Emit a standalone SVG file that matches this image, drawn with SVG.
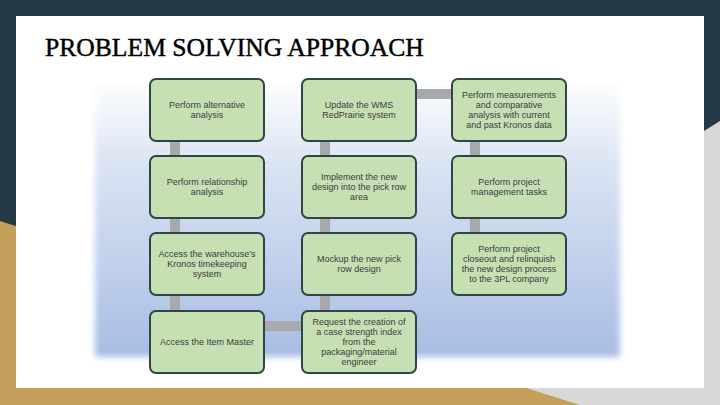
<svg xmlns="http://www.w3.org/2000/svg" width="720" height="405" viewBox="0 0 720 405">
<defs>
<linearGradient id="panelGrad" x1="0" y1="0" x2="0" y2="1">
<stop offset="0" stop-color="#fbfcfe"/>
<stop offset="0.3" stop-color="#dae3f3"/>
<stop offset="1" stop-color="#a8bde4"/>
</linearGradient>
<filter id="soft" x="-5%" y="-5%" width="110%" height="110%">
<feGaussianBlur stdDeviation="3"/>
</filter>
<style>
.box{fill:#c6e0b4;stroke:#2f4646;stroke-width:2}
.lbl{font-family:"Liberation Sans",Arial,sans-serif;font-size:9px;fill:#3c3c3c;text-anchor:middle}
.conn{stroke:#a8a9ad;stroke-width:10;fill:none}
.title{font-family:"Liberation Serif","Times New Roman",serif;font-size:25.6px;fill:#000;stroke:#000;stroke-width:0.45}
</style>
</defs>
<rect x="0" y="0" width="720" height="405" fill="#243846"/>
<polygon points="720,121 266,405 720,405" fill="#d8d8d8"/>
<polygon points="0,221 580,405 0,405" fill="#c49f59"/>
<rect x="16" y="16" width="688" height="372" fill="#ffffff"/>
<text class="title" x="45" y="56">PROBLEM SOLVING APPROACH</text>
<rect x="95" y="86" width="525" height="271" fill="url(#panelGrad)" filter="url(#soft)"/>
<g id="connectors">
<line class="conn" x1="175" y1="141" x2="175" y2="311"/>
<line class="conn" x1="325" y1="141" x2="325" y2="311"/>
<line class="conn" x1="475" y1="141" x2="475" y2="233"/>
<line class="conn" x1="416" y1="94" x2="452" y2="94"/>
<line class="conn" x1="264" y1="326" x2="302" y2="326"/>
</g>
<g id="n1"><rect class="box" x="150" y="79" width="114" height="62" rx="6"/>
<text class="lbl"><tspan x="207" y="107.9">Perform alternative</tspan><tspan x="207" y="118.1">analysis</tspan></text></g>
<g id="n2"><rect class="box" x="150" y="156" width="114" height="62" rx="6"/>
<text class="lbl"><tspan x="207" y="184.9">Perform relationship</tspan><tspan x="207" y="195.1">analysis</tspan></text></g>
<g id="n3"><rect class="box" x="150" y="233" width="114" height="62" rx="6"/>
<text class="lbl"><tspan x="207" y="256.8">Access the warehouse's</tspan><tspan x="207" y="267">Kronos timekeeping</tspan><tspan x="207" y="277.2">system</tspan></text></g>
<g id="n4"><rect class="box" x="150" y="311" width="114" height="62" rx="6"/>
<text class="lbl"><tspan x="207" y="345">Access the Item Master</tspan></text></g>
<g id="n5"><rect class="box" x="302" y="79" width="114" height="62" rx="6"/>
<text class="lbl"><tspan x="359" y="107.9">Update the WMS</tspan><tspan x="359" y="118.1">RedPrairie system</tspan></text></g>
<g id="n6"><rect class="box" x="302" y="156" width="114" height="62" rx="6"/>
<text class="lbl"><tspan x="359" y="179.8">Implement the new</tspan><tspan x="359" y="190">design into the pick row</tspan><tspan x="359" y="200.2">area</tspan></text></g>
<g id="n7"><rect class="box" x="302" y="233" width="114" height="62" rx="6"/>
<text class="lbl"><tspan x="359" y="261.9">Mockup the new pick</tspan><tspan x="359" y="272.1">row design</tspan></text></g>
<g id="n8"><rect class="box" x="302" y="311" width="114" height="62" rx="6"/>
<text class="lbl"><tspan x="359" y="324.6">Request the creation of</tspan><tspan x="359" y="334.8">a case strength index</tspan><tspan x="359" y="345">from the</tspan><tspan x="359" y="355.2">packaging/material</tspan><tspan x="359" y="365.4">engineer</tspan></text></g>
<g id="n9"><rect class="box" x="452" y="79" width="114" height="62" rx="6"/>
<text class="lbl"><tspan x="509" y="97.7">Perform measurements</tspan><tspan x="509" y="107.9">and comparative</tspan><tspan x="509" y="118.1">analysis with current</tspan><tspan x="509" y="128.3">and past Kronos data</tspan></text></g>
<g id="n10"><rect class="box" x="452" y="156" width="114" height="62" rx="6"/>
<text class="lbl"><tspan x="509" y="184.9">Perform project</tspan><tspan x="509" y="195.1">management tasks</tspan></text></g>
<g id="n11"><rect class="box" x="452" y="233" width="114" height="62" rx="6"/>
<text class="lbl"><tspan x="509" y="251.7">Perform project</tspan><tspan x="509" y="261.9">closeout and relinquish</tspan><tspan x="509" y="272.1">the new design process</tspan><tspan x="509" y="282.3">to the 3PL company</tspan></text></g>
</svg>
